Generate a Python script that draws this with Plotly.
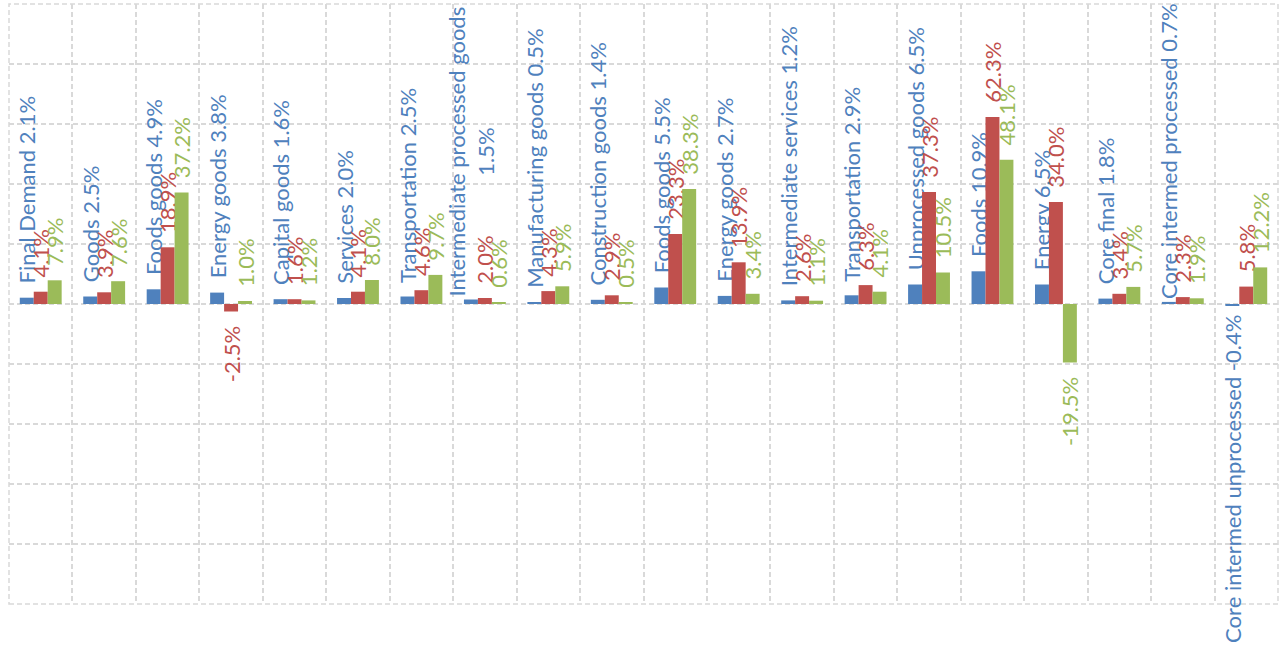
import plotly.graph_objects as go

names = ["Final Demand", "Goods", "Foods goods", "Energy goods", "Capital goods",
         "Services", "Transportation", "Intermediate processed goods<br>", "Manufacturing goods",
         "Construction goods", "Foods goods", "Energy goods", "Intermediate services",
         "Transportation", "Unprocessed goods", "Foods", "Energy", "Core final",
         "Core intermed processed", "Core intermed unprocessed"]
blue = [2.1, 2.5, 4.9, 3.8, 1.6, 2.0, 2.5, 1.5, 0.5, 1.4,
        5.5, 2.7, 1.2, 2.9, 6.5, 10.9, 6.5, 1.8, 0.7, -0.4]
red = [4.1, 3.9, 18.9, -2.5, 1.6, 4.1, 4.6, 2.0, 4.3, 2.9,
       23.3, 13.9, 2.6, 6.3, 37.3, 62.3, 34.0, 3.4, 2.3, 5.8]
green = [7.9, 7.6, 37.2, 1.0, 1.2, 8.0, 9.7, 0.6, 5.9, 0.5,
         38.3, 3.4, 1.1, 4.1, 10.5, 48.1, -19.5, 5.7, 1.9, 12.2]

x = list(range(len(names)))
FONT = "Lato"
FS = 22
NB = "\u00a0"


def pad(t, v):
    # long labels are kept tight to the bar so they stay inside the chart
    if len(t) > 26:
        return t if v >= 0 else t + NB
    return (NB * 2 + t) if v >= 0 else (t + NB * 2)


def sep(n):
    return "" if n.endswith("<br>") else " "


blue_text = [pad(f"{n}{sep(n)}{v:.1f}%", v) for n, v in zip(names, blue)]
red_text = [pad(f"{v:.1f}%", v) for v in red]
green_text = [pad(f"{v:.1f}%", v) for v in green]

series = [
    (blue, blue_text, "#4F81BD"),
    (red, red_text, "#C0504D"),
    (green, green_text, "#9BBB59"),
]

fig = go.Figure()
for vals, txt, col in series:
    fig.add_trace(go.Bar(
        x=x, y=vals, text=txt, textposition="outside", textangle=-90,
        constraintext="none", cliponaxis=False, hoverinfo="skip",
        marker=dict(color=col, line=dict(width=0)),
        textfont=dict(family=FONT, size=FS, color=col),
        showlegend=False,
    ))

grid = dict(showgrid=True, gridcolor="#D9D9D9", gridwidth=1.5, griddash="5px,3px",
            showticklabels=False, ticks="", zeroline=False, showline=False)

fig.update_layout(
    width=1280, height=656,
    margin=dict(l=9, r=2, t=4, b=52),
    paper_bgcolor="white", plot_bgcolor="white",
    barmode="group", bargap=0.34, bargroupgap=0,
    xaxis=dict(range=[-0.5, 19.5], tick0=-0.5, dtick=1, **grid),
    yaxis=dict(range=[-100, 100], tick0=0, dtick=20, **grid),
    shapes=[dict(type="rect", xref="paper", yref="paper", x0=0, x1=1, y0=0, y1=1,
                 line=dict(color="#D9D9D9", width=1.5, dash="5px,3px"), layer="below")],
)

fig.write_html("out.html", config={"displayModeBar": False},
               post_script="document.body.style.margin='0';document.body.style.overflow='hidden';")
